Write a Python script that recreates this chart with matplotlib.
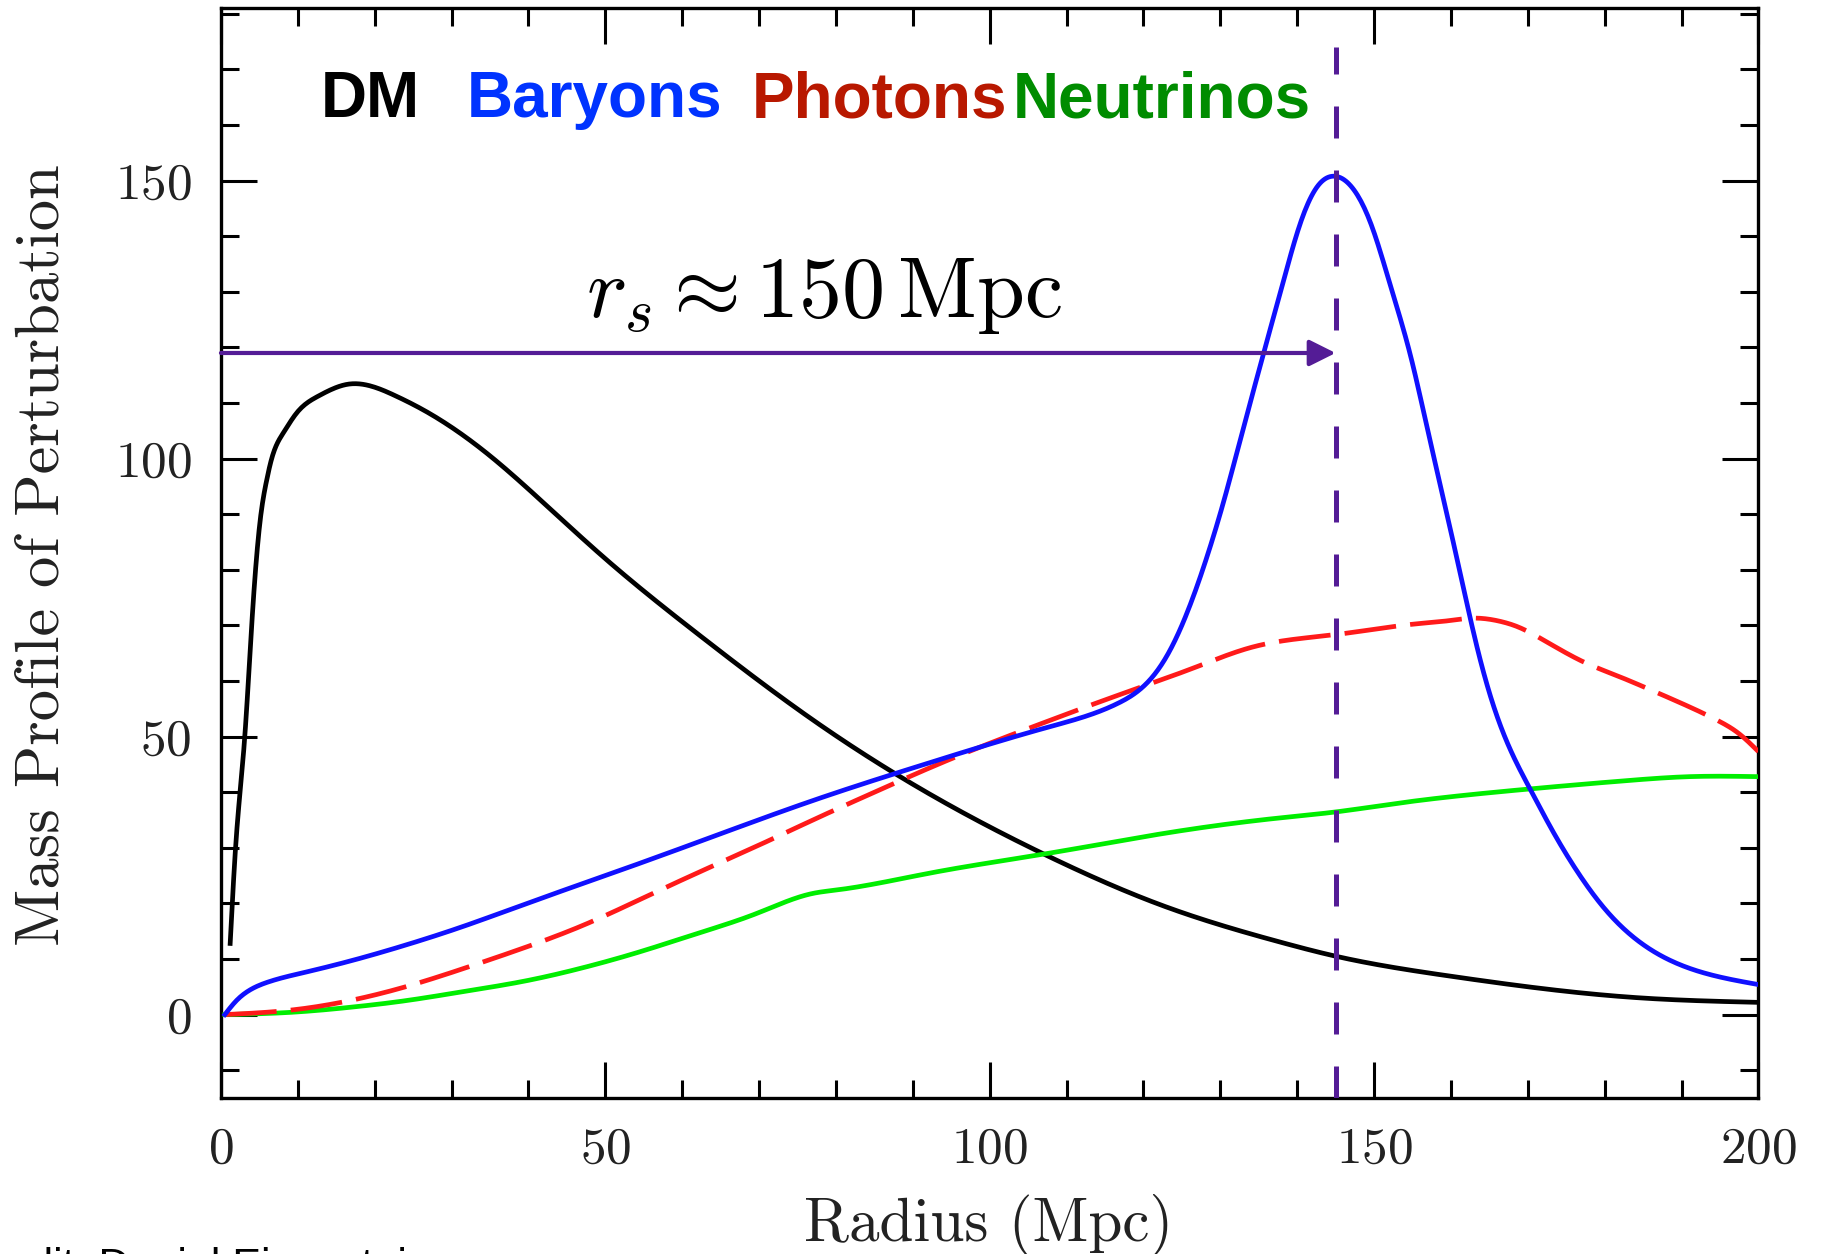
import numpy as np
import matplotlib
matplotlib.use("Agg")
import matplotlib.pyplot as plt
from matplotlib.ticker import MultipleLocator

plt.rcParams['mathtext.fontset'] = 'cm'
plt.rcParams['axes.formatter.use_mathtext'] = True

# Mass profiles vs radius (Mpc)
r_dm = [1.2, 1.9, 3.1, 4.0, 4.5, 5.2, 5.9, 6.6, 8.1, 9.9, 12.6, 16.6, 22.7, 26.4, 35.0, 42.0,
        50.0, 62.0, 77.0, 92.4, 107.6, 122.7, 137.9, 144.7, 160.0, 173.0, 184.7, 200.0]
m_dm = [12.8, 30.0, 50.0, 70.0, 80.0, 90.0, 95.8, 100.0, 104.6, 108.3, 111.2, 113.4, 111.3,
        108.7, 100.5, 92.0, 82.0, 68.5, 53.0, 39.5, 28.5, 19.5, 13.0, 10.6, 6.9, 4.5, 3.0, 2.2]

r_bar = [0.5, 2.0, 3.5, 6.0, 10.6, 16.7, 24.0, 31.8, 39.4, 50.0, 62.0, 77.0, 92.4, 107.6,
         116.7, 120.9, 123.0, 125.3, 128.3, 130.5, 132.6, 135.7, 138.3, 140.4, 142.6, 144.7,
         147.0, 149.6, 152.2, 154.8, 156.9, 159.1, 161.3, 163.2, 165.2, 167.3, 170.4, 173.0,
         176.5, 180.4, 184.7, 190.3, 195.5, 200.0]
m_bar = [0.0, 2.5, 4.2, 5.8, 7.5, 9.6, 12.5, 16.0, 19.8, 25.0, 31.0, 38.5, 45.4, 51.7,
         56.0, 60.3, 64.4, 71.0, 82.5, 92.6, 103.4, 119.3, 132.4, 142.3, 148.9, 150.8,
         149.0, 142.2, 130.8, 118.2, 105.6, 92.3, 78.8, 67.2, 57.0, 49.0, 40.3, 33.6,
         25.6, 18.4, 12.9, 8.7, 6.6, 5.4]

r_ph = [0.5, 9.0, 16.7, 24.0, 31.8, 39.4, 47.0, 54.5, 62.0, 69.7, 77.0, 85.0, 92.4, 100.0,
        107.6, 115.0, 120.9, 127.0, 133.9, 139.0, 144.7, 155.6, 160.0, 162.6, 166.5, 168.6,
        172.0, 177.3, 181.7, 186.0, 190.3, 194.7, 197.5, 200.0]
m_ph = [0.0, 0.8, 2.5, 5.0, 8.4, 12.0, 16.0, 20.7, 25.5, 30.3, 35.0, 40.0, 44.5, 48.8,
        52.8, 56.6, 59.5, 62.6, 66.0, 67.4, 68.3, 70.3, 70.9, 71.3, 70.7, 69.8,
        67.4, 63.4, 60.9, 58.4, 55.8, 52.9, 50.5, 47.3]

r_nu = [0.5, 9.0, 16.7, 24.0, 31.8, 39.4, 47.0, 54.5, 62.0, 69.7, 77.0, 80.0, 92.4, 107.6,
        122.7, 137.9, 144.7, 153.0, 168.0, 183.0, 191.0, 200.0]
m_nu = [0.0, 0.4, 1.3, 2.5, 4.2, 6.0, 8.4, 11.3, 14.6, 18.2, 21.8, 22.4, 25.5, 29.0,
        32.6, 35.4, 36.4, 38.0, 40.3, 42.1, 42.8, 42.8]

species = ['DM', 'Baryons', 'Photons', 'Neutrinos']
species_x = [0.065, 0.16, 0.345, 0.515]
species_colors = ['black', '#0033ff', '#b81800', '#008c00']

r_sound = 145
arrow_y = 119

purple = '#541c96'


def spline(x, y, n=900):
    """Natural cubic spline through the read points, for drawing."""
    x = np.asarray(x, float)
    y = np.asarray(y, float)
    npts = len(x)
    h = np.diff(x)
    A = np.zeros((npts, npts))
    b = np.zeros(npts)
    A[0, 0] = A[-1, -1] = 1.0
    for i in range(1, npts - 1):
        A[i, i - 1] = h[i - 1]
        A[i, i] = 2 * (h[i - 1] + h[i])
        A[i, i + 1] = h[i]
        b[i] = 6 * ((y[i + 1] - y[i]) / h[i] - (y[i] - y[i - 1]) / h[i - 1])
    M = np.linalg.solve(A, b)
    xs = np.linspace(x[0], x[-1], n)
    k = np.clip(np.searchsorted(x, xs) - 1, 0, npts - 2)
    dx0 = xs - x[k]
    dx1 = x[k + 1] - xs
    hk = h[k]
    ys = (M[k] * dx1**3 + M[k + 1] * dx0**3) / (6 * hk) \
        + (y[k] / hk - M[k] * hk / 6) * dx1 + (y[k + 1] / hk - M[k + 1] * hk / 6) * dx0
    return xs, ys


fig = plt.figure(figsize=(18.26, 12.54), dpi=100)
ax = fig.add_axes([0.121, 0.1244, 0.842, 0.869])

lw = 3.4
ax.plot(*spline(r_dm, m_dm), color='black', lw=lw, zorder=3)
ax.plot(*spline(r_nu, m_nu), color='#00ee00', lw=lw, zorder=3)
ax.plot(*spline(r_ph, m_ph), color='#ff1a1a', lw=lw, dashes=(11, 3), zorder=3)
ax.plot(*spline(r_bar, m_bar), color='#1010ff', lw=lw, zorder=4)

ax.plot([r_sound, r_sound], [-15, 174], color=purple, lw=3.6, dashes=(6.4, 6.4), zorder=5)
ax.annotate('', xy=(r_sound, arrow_y), xytext=(0, arrow_y),
            arrowprops=dict(arrowstyle='-|>', color=purple, lw=3.0,
                            mutation_scale=40, shrinkA=0, shrinkB=0), zorder=5)
ax.text(78.5, 125.5, r'$r_s \approx 150\,\mathrm{Mpc}$', fontsize=62, ha='center',
        va='baseline', zorder=6)

for name, xp, c in zip(species, species_x, species_colors):
    ax.text(xp, 0.90, name, transform=ax.transAxes, fontsize=46, fontweight='bold',
            color=c, family='Liberation Sans', ha='left', va='baseline')

ax.set_xlim(0, 200)
ax.set_ylim(-15, 181)
ax.xaxis.set_major_locator(MultipleLocator(50))
ax.xaxis.set_minor_locator(MultipleLocator(10))
ax.yaxis.set_major_locator(MultipleLocator(50))
ax.yaxis.set_minor_locator(MultipleLocator(10))
ax.tick_params(which='both', direction='in', top=True, right=True, width=2.2)
ax.tick_params(which='major', length=26, labelsize=37, pad=21)
ax.tick_params(which='minor', length=13)
for s in ax.spines.values():
    s.set_linewidth(2.4)
for lbl in ax.get_xticklabels() + ax.get_yticklabels():
    lbl.set_family('cmr10')
    lbl.set_color('#222222')

ax.set_xlabel('Radius (Mpc)', family='cmr10', fontsize=44, color='#222222')
ax.set_ylabel('Mass Profile of Perturbation', family='cmr10', fontsize=45, color='#222222')
ax.xaxis.set_label_coords(0.499, -0.088)
ax.yaxis.set_label_coords(-0.098, 0.498)

fig.text(0.236, -0.019, 'Credit: Daniel Eisenstein', fontsize=31, family='Liberation Sans',
         ha='right', va='baseline')

fig.savefig('out.png', dpi=100)
